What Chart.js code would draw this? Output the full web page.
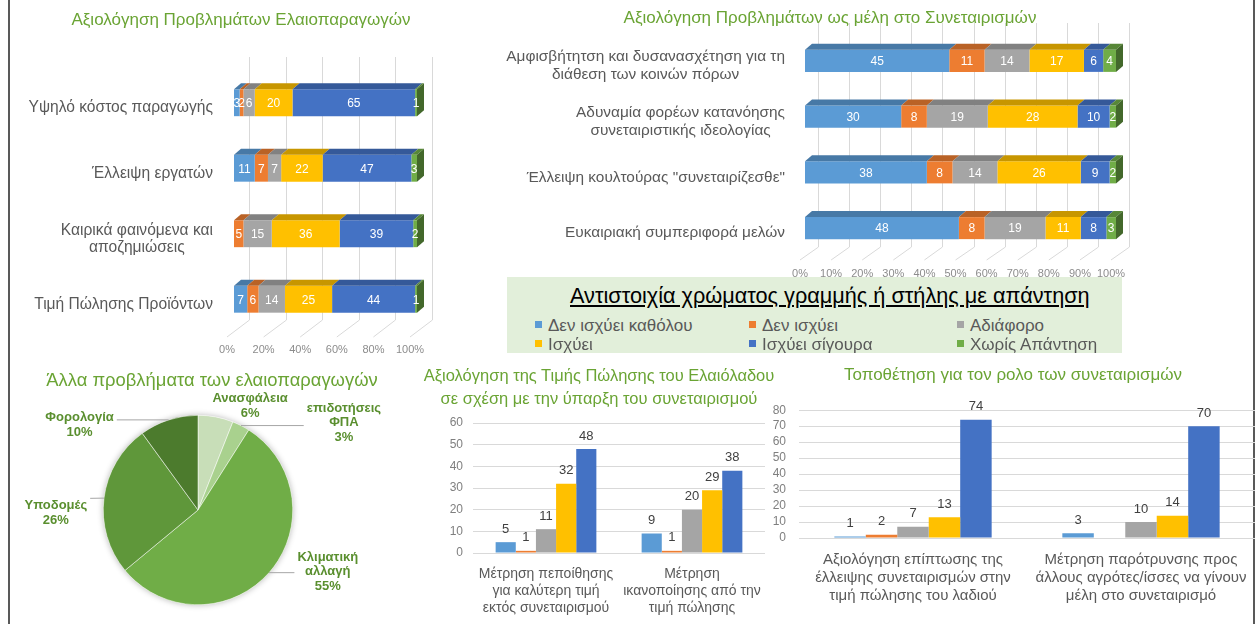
<!DOCTYPE html>
<html>
<head>
<meta charset="utf-8">
<script src="https://cdn.jsdelivr.net/npm/chart.js@4.4.0/dist/chart.umd.min.js"></script>
<style>
  body { margin: 0; width: 1259px; height: 624px; position: relative; overflow: hidden; background: #fff;
         font-family: "Liberation Sans", Arial, sans-serif; }
  canvas { position: absolute; }
  .edge { position: absolute; top: 0; width: 2px; height: 624px; background: #595959; }
  .title { position: absolute; color: #6aa434; white-space: nowrap; text-align: center;
           transform: translate(-50%, -50%); }
  #legend { position: absolute; left: 507px; top: 277px; width: 615px; height: 76px; background: #e2efda; }
  #legend .head { position: absolute; left: 63px; top: 6px; font-size: 21.7px; font-style: normal; color: #000; text-decoration: underline; white-space: nowrap; }
  #legend .item { position: absolute; font-size: 17px; color: #595959; white-space: nowrap; line-height: 19px; }
  #legend .item i { display: inline-block; width: 7px; height: 7px; margin-right: 6px; vertical-align: 3px; }
</style>
</head>
<body>
<div class="edge" style="left:8px"></div>
<div class="edge" style="left:1253px"></div>

<canvas id="prodChart" width="440" height="360" style="left:0;top:0"></canvas>
<canvas id="memberChart" width="819" height="290" style="left:440px;top:0"></canvas>
<canvas id="otherChart" width="420" height="264" style="left:0;top:360px"></canvas>
<canvas id="priceChart" width="360" height="219" style="left:410px;top:405px"></canvas>
<canvas id="roleChart" width="499" height="234" style="left:760px;top:390px"></canvas>

<div class="title" style="left:241px;top:20px;font-size:17px">Αξιολόγηση Προβλημάτων Ελαιοπαραγωγών</div>
<div class="title" style="left:830px;top:18px;font-size:17px">Αξιολόγηση Προβλημάτων ως μέλη στο Συνεταιρισμών</div>
<div class="title" style="left:212px;top:380px;font-size:18.4px">Άλλα προβλήματα των ελαιοπαραγωγών</div>
<div class="title" style="left:599px;top:387px;font-size:16.5px;line-height:23px">Αξιολόγηση της Τιμής Πώλησης του Ελαιόλαδου<br>σε σχέση με την ύπαρξη του συνεταιρισμού</div>
<div class="title" style="left:1013px;top:375px;font-size:17px">Τοποθέτηση για τον ρολο των συνεταιρισμών</div>

<div id="legend"><div class="head">Αντιστοιχία χρώματος γραμμής ή στήλης με απάντηση</div></div>

<script>
// απαντήσεις και χρώματα (κοινά για όλα τα γραφήματα)
const answerNames = ['Δεν ισχύει καθόλου', 'Δεν ισχύει', 'Αδιάφορο', 'Ισχύει', 'Ισχύει σίγουρα', 'Χωρίς Απάντηση'];
const answerColors = ['#5b9bd5', '#ed7d31', '#a5a5a5', '#ffc000', '#4472c4', '#70ad47'];

// Αξιολόγηση Προβλημάτων Ελαιοπαραγωγών (μία γραμμή ανά απάντηση)
const prodLabels = [['Υψηλό κόστος παραγωγής'], ['Έλλειψη εργατών'], ['Καιρικά φαινόμενα και', 'αποζημιώσεις'], ['Τιμή Πώλησης Προϊόντων']];
const prodValues = [
    [3, 11, 0, 7],
    [2, 7, 5, 6],
    [6, 7, 15, 14],
    [20, 22, 36, 25],
    [65, 47, 39, 44],
    [1, 3, 2, 1]
];

// Αξιολόγηση Προβλημάτων ως μέλη στο Συνεταιρισμό
const memberLabels = [['Αμφισβήτητση και δυσανασχέτηση για τη', 'διάθεση των κοινών πόρων'], ['Αδυναμία φορέων κατανόησης', 'συνεταιριστικής ιδεολογίας'], ['Έλλειψη κουλτούρας "συνεταιρίζεσθε"'], ['Ευκαιριακή συμπεριφορά μελών']];
const memberValues = [
    [45, 30, 38, 48],
    [11, 8, 8, 8],
    [14, 19, 14, 19],
    [17, 28, 26, 11],
    [6, 10, 9, 8],
    [4, 2, 2, 3]
];

// Άλλα προβλήματα (πίτα)
const otherLabels = [['Ανασφάλεια'], ['επιδοτήσεις', 'ΦΠΑ'], ['Κλιματική', 'αλλαγή'], ['Υποδομές'], ['Φορολογία']];
const otherValues = [6, 3, 55, 26, 10];
const otherColors = ['#c8deb8', '#a9d18e', '#70ad47', '#5f973a', '#4c7b2d'];

// Τιμή πώλησης ελαιόλαδου
const priceLabels = [['Μέτρηση πεποίθησης', 'για καλύτερη τιμή', 'εκτός συνεταιρισμού'], ['Μέτρηση', 'ικανοποίησης από την', 'τιμή πώλησης']];
const priceValues = [[5, 9], [1, 1], [11, 20], [32, 29], [48, 38]];

// Ρόλος των συνεταιρισμών
const roleLabels = [['Αξιολόγηση επίπτωσης της', 'έλλειψης συνεταιρισμών στην', 'τιμή πώλησης του λαδιού'], ['Μέτρηση παρότρυνσης προς', 'άλλους αγρότες/ίσσες να γίνουν', 'μέλη στο συνεταιρισμό']];
const roleValues = [[1, 3], [2, null], [7, 10], [13, 14], [74, 70]];

const FONT = '"Liberation Sans", Arial, sans-serif';
Chart.defaults.font.family = FONT;
Chart.defaults.animation = false;

function shade(hex, f) {
    const n = parseInt(hex.slice(1), 16);
    return `rgb(${Math.round((n >> 16) * f)},${Math.round((n >> 8 & 255) * f)},${Math.round((n & 255) * f)})`;
}

// κοινό υπόμνημα
const legendPos = [[28, 49], [242, 49], [450, 49], [28, 68], [242, 68], [450, 68]];
answerNames.forEach((name, k) => {
    const d = document.createElement('div');
    d.className = 'item';
    d.style.left = legendPos[k][0] + 'px';
    d.style.top = (legendPos[k][1] - 10) + 'px';
    d.innerHTML = `<i style="background:${answerColors[k]}"></i>${name}`;
    document.getElementById('legend').appendChild(d);
});

// 100% στοιβαγμένες μπάρες
function percentSets(values) {
    const totals = values[0].map((_, i) => values.reduce((s, row) => s + row[i], 0));
    return values.map((row, k) => ({
        label: answerNames[k],
        data: row.map((v, i) => v / totals[i] * 100),
        raw: row,
        backgroundColor: answerColors[k]
    }));
}

// ψευδο-3Δ: πίσω πλέγμα, πάνω/πλαϊνή έδρα, ετικέτες
const bar3d = {
    id: 'bar3d',
    beforeDatasetsDraw(chart, args, o) {
        const { ctx, chartArea: a, scales: { x } } = chart;
        ctx.save();
        ctx.strokeStyle = '#d9d9d9';
        ctx.lineWidth = 1;
        ctx.fillStyle = '#8c8c8c';
        ctx.font = '11px ' + FONT;
        ctx.textAlign = 'center';
        ctx.textBaseline = 'middle';
        for (let v = 0; v <= 100; v += o.step) {
            const px = x.getPixelForValue(v);
            const bx = Math.round(px + o.back) + 0.5;
            ctx.beginPath();
            ctx.moveTo(bx, a.top + o.wallTop);
            ctx.lineTo(bx, a.bottom + o.floorBack);
            ctx.lineTo(px + o.front, a.bottom + o.floorFront);
            ctx.stroke();
            ctx.fillText(v + '%', px + o.front, a.bottom + o.tickY);
        }
        ctx.restore();
    },
    afterDatasetsDraw(chart, args, o) {
        const { ctx, scales: { y } } = chart;
        const sets = chart.data.datasets;
        ctx.save();
        chart.data.labels.forEach((lab, i) => {
            let last = null;
            sets.forEach((ds, k) => {
                if (!ds.raw[i]) return;
                const el = chart.getDatasetMeta(k).data[i];
                const t = el.y - el.height / 2;
                ctx.fillStyle = shade(ds.backgroundColor, 0.78);
                ctx.beginPath();
                ctx.moveTo(el.base, t);
                ctx.lineTo(el.x, t);
                ctx.lineTo(el.x + o.dx, t - o.dy);
                ctx.lineTo(el.base + o.dx, t - o.dy);
                ctx.closePath();
                ctx.fill();
                last = { el, color: ds.backgroundColor };
            });
            if (last) {
                const el = last.el, t = el.y - el.height / 2, b = el.y + el.height / 2;
                ctx.fillStyle = shade(last.color, 0.6);
                ctx.beginPath();
                ctx.moveTo(el.x, t);
                ctx.lineTo(el.x + o.dx, t - o.dy);
                ctx.lineTo(el.x + o.dx, b - o.dy);
                ctx.lineTo(el.x, b);
                ctx.closePath();
                ctx.fill();
            }
            // τιμές μέσα στις μπάρες
            ctx.fillStyle = '#fff';
            ctx.font = '12px ' + FONT;
            ctx.textAlign = 'center';
            ctx.textBaseline = 'middle';
            sets.forEach((ds, k) => {
                if (!ds.raw[i]) return;
                const el = chart.getDatasetMeta(k).data[i];
                ctx.fillText(ds.raw[i], (el.x + el.base) / 2, el.y + 1);
            });
            // ετικέτες κατηγοριών
            ctx.fillStyle = '#595959';
            ctx.font = o.labelFont + 'px ' + FONT;
            const w = Math.max(...lab.map(s => ctx.measureText(s).width));
            const cy = y.getPixelForValue(i) + o.labelDy - (lab.length - 1) * o.lineH / 2;
            lab.forEach((s, j) => ctx.fillText(s, o.labelRight - w / 2, cy + j * o.lineH));
        });
        ctx.restore();
    }
};

function stackedConfig(labels, values, pad, bar3dOpts, pct) {
    return {
        type: 'bar',
        data: { labels: labels, datasets: percentSets(values) },
        options: {
            responsive: false,
            indexAxis: 'y',
            layout: { padding: pad },
            datasets: { bar: { categoryPercentage: pct, barPercentage: 1 } },
            scales: {
                x: { stacked: true, min: 0, max: 100, display: false },
                y: { stacked: true, display: false }
            },
            plugins: { legend: { display: false }, tooltip: { enabled: false }, bar3d: bar3dOpts }
        },
        plugins: [bar3d]
    };
}

new Chart(document.getElementById('prodChart'), stackedConfig(prodLabels, prodValues,
    { left: 234, right: 23, top: 70, bottom: 28 },
    { step: 20, back: 15, front: -7, wallTop: -13, floorBack: -12, floorFront: 5, tickY: 18,
      dx: 7, dy: 6, labelRight: 213, labelDy: 5, lineH: 17, labelFont: 15.6 }, 0.41));

new Chart(document.getElementById('memberChart'), stackedConfig(memberLabels, memberValues,
    { left: 365, right: 143, top: 33, bottom: 34 },
    { step: 10, back: 13, front: -5, wallTop: -10, floorBack: -9, floorFront: 4, tickY: 18,
      dx: 7, dy: 6, labelRight: 345, labelDy: 5, lineH: 18, labelFont: 15.4 }, 0.395));

// πίτα με ετικέτες και γραμμές οδηγούς
const pieLabels = {
    id: 'pieLabels',
    beforeDatasetsDraw(chart) {
        const arc = chart.getDatasetMeta(0).data[0];
        const { ctx } = chart;
        ctx.save();
        ctx.shadowColor = 'rgba(0,0,0,0.3)';
        ctx.shadowBlur = 6;
        ctx.fillStyle = '#fff';
        ctx.beginPath();
        ctx.arc(arc.x, arc.y, arc.outerRadius, 0, Math.PI * 2);
        ctx.fill();
        ctx.restore();
    },
    afterDatasetsDraw(chart, args, o) {
        const { ctx } = chart;
        const vals = chart.data.datasets[0].data;
        const total = vals.reduce((s, v) => s + v, 0);
        ctx.save();
        ctx.font = 'bold 13px ' + FONT;
        ctx.textAlign = 'center';
        ctx.textBaseline = 'middle';
        chart.getDatasetMeta(0).data.forEach((arc, i) => {
            const { x, y, startAngle, endAngle, outerRadius: r } = arc.getProps(['x', 'y', 'startAngle', 'endAngle', 'outerRadius'], true);
            const mid = (startAngle + endAngle) / 2;
            const lines = [...chart.data.labels[i], Math.round(vals[i] / total * 100) + '%'];
            const cx = x + o.offsets[i][0] * r, cy = y + o.offsets[i][1] * r;
            const w = Math.max(...lines.map(s => ctx.measureText(s).width));
            const h = lines.length * 14.5;
            const px = x + Math.cos(mid) * r, py = y + Math.sin(mid) * r;
            const qx = Math.min(Math.max(px, cx - w / 2 - 3), cx + w / 2 + 3);
            const qy = Math.min(Math.max(py, cy - h / 2), cy + h / 2);
            ctx.strokeStyle = '#a6a6a6';
            ctx.lineWidth = 1;
            ctx.beginPath();
            ctx.moveTo(px, py);
            ctx.lineTo(qx, qy);
            ctx.stroke();
            ctx.fillStyle = '#5a8f2f';
            lines.forEach((s, j) => ctx.fillText(s, cx, cy - h / 2 + 7.25 + j * 14.5));
        });
        ctx.restore();
    }
};

new Chart(document.getElementById('otherChart'), {
    type: 'pie',
    data: {
        labels: otherLabels,
        datasets: [{ data: otherValues, backgroundColor: otherColors, borderColor: '#fff', borderWidth: 0.5, hoverOffset: 0 }]
    },
    options: {
        responsive: false,
        layout: { padding: { left: 103, right: 127, top: 55, bottom: 19 } },
        plugins: {
            legend: { display: false }, tooltip: { enabled: false },
            pieLabels: { offsets: [[0.55, -1.1], [1.54, -0.92], [1.37, 0.65], [-1.5, 0.03], [-1.25, -0.9]] }
        }
    },
    plugins: [pieLabels]
});

// ομαδοποιημένες στήλες με τιμές από πάνω
const valueLabels = {
    id: 'valueLabels',
    afterDatasetsDraw(chart) {
        const { ctx } = chart;
        ctx.save();
        ctx.font = '13px ' + FONT;
        ctx.fillStyle = '#404040';
        ctx.textAlign = 'center';
        ctx.textBaseline = 'middle';
        chart.data.datasets.forEach((ds, k) => {
            chart.getDatasetMeta(k).data.forEach((el, i) => {
                if (ds.data[i] == null) return;
                ctx.fillText(ds.data[i], el.x, el.y - 13);
            });
        });
        ctx.restore();
    }
};

function groupedConfig(labels, values, max, pad, yWidth, xHeight, yPad, xPad, xFont) {
    return {
        type: 'bar',
        data: {
            labels: labels,
            datasets: values.map((row, k) => ({ label: answerNames[k], data: row, backgroundColor: answerColors[k] }))
        },
        options: {
            responsive: false,
            layout: { padding: pad },
            datasets: { bar: { categoryPercentage: 0.69, barPercentage: 1 } },
            scales: {
                x: {
                    grid: { display: false },
                    border: { display: false },
                    ticks: { color: '#595959', font: { size: xFont, lineHeight: 1.2 }, padding: xPad, maxRotation: 0, autoSkip: false },
                    afterFit: s => { s.height = xHeight; }
                },
                y: {
                    min: 0, max: max,
                    grid: { color: '#d9d9d9', drawTicks: false },
                    border: { display: false },
                    ticks: { stepSize: 10, color: '#7f7f7f', font: { size: 12 }, padding: yPad, autoSkip: false },
                    afterFit: s => { s.width = yWidth; }
                }
            },
            plugins: { legend: { display: false }, tooltip: { enabled: false } }
        },
        plugins: [valueLabels]
    };
}

new Chart(document.getElementById('priceChart'),
    groupedConfig(priceLabels, priceValues, 60, { top: 18, right: 5, left: 0, bottom: 0 }, 63, 71, 10, 5, 14));

new Chart(document.getElementById('roleChart'),
    groupedConfig(roleLabels, roleValues, 80, { top: 10, right: 4, left: 0, bottom: 0 }, 39, 86, 13, 5, 15));
</script>
</body>
</html>
